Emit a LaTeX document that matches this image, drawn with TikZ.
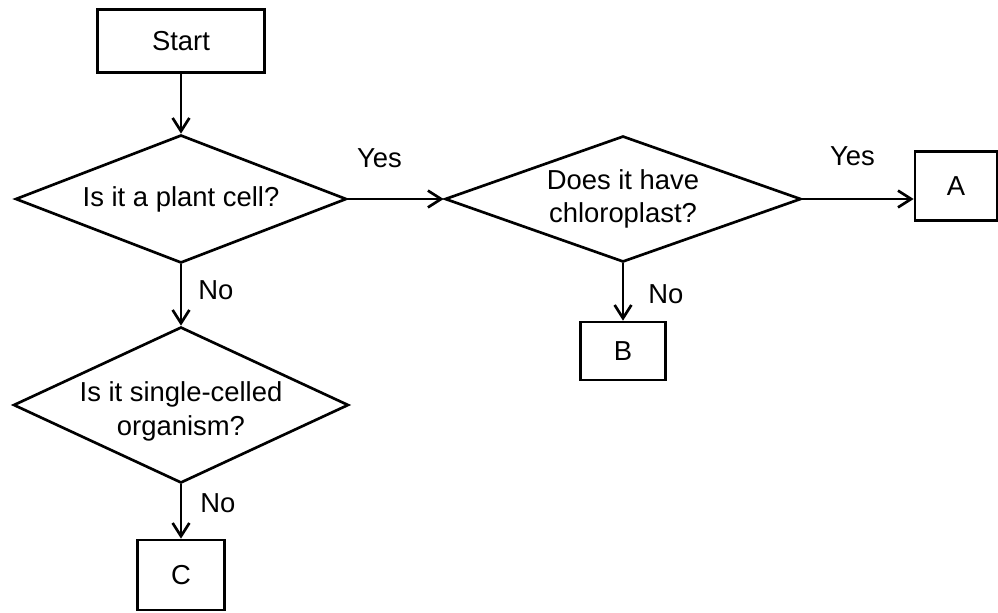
\documentclass[tikz,border=0pt]{standalone}
\usepackage{fontspec}
\setmainfont{Liberation Sans}
\usetikzlibrary{shapes.geometric,arrows.meta,positioning}

\begin{document}
\begin{tikzpicture}[x=0.025cm, y=-0.025cm,
    line width=1.9pt,
    >={Straight Barb[length=0.33cm,width=0.42cm]},
    every node/.style={font=\fontsize{19.5}{24}\selectfont, align=center},
    box/.style={draw, rectangle, inner sep=0pt},
    decision/.style={draw, diamond, inner sep=0pt},
    lbl/.style={inner sep=0pt}]
\useasboundingbox (0,0) rectangle (998,612);

% Boxes
\node[box, minimum width=4.175cm, minimum height=1.575cm] (start) at (181,41) {Start};
\node[box, minimum width=2.05cm, minimum height=1.725cm] (a) at (956,186) {A};
\node[box, minimum width=2.125cm, minimum height=1.45cm] (b) at (623,351) {B};
\node[box, minimum width=2.175cm, minimum height=1.75cm] (c) at (181,575) {C};

% Decisions
\node[decision, aspect=2.6, minimum width=8.275cm, minimum height=3.2cm] (plant) at (181,199) {Is it a plant cell?};
\node[decision, aspect=2.8, minimum width=8.9cm, minimum height=3.15cm] (chloro) at (623,199) {Does it have\\chloroplast?};
\node[decision, aspect=2.15, inner sep=-4pt, minimum width=8.375cm, minimum height=3.9cm] (single) at (181,405) {\rule{0pt}{0.8cm}Is it single-celled\\organism?};

% Arrows
\draw[->] (start) -- (plant);
\draw[->] (plant) -- (chloro) node[lbl, pos=0.33, above=0.74cm] {Yes};
\draw[->] (chloro) -- (chloro -| a.west) node[lbl, pos=0.45, above=0.79cm] {Yes};
\draw[->] (chloro) -- (b) node[lbl, pos=0.54, right=0.6cm] {No};
\draw[->] (plant) -- (single) node[lbl, pos=0.42, right=0.4cm] {No};
\draw[->] (single) -- (c) node[lbl, pos=0.35, right=0.45cm] {No};

\end{tikzpicture}
\end{document}
